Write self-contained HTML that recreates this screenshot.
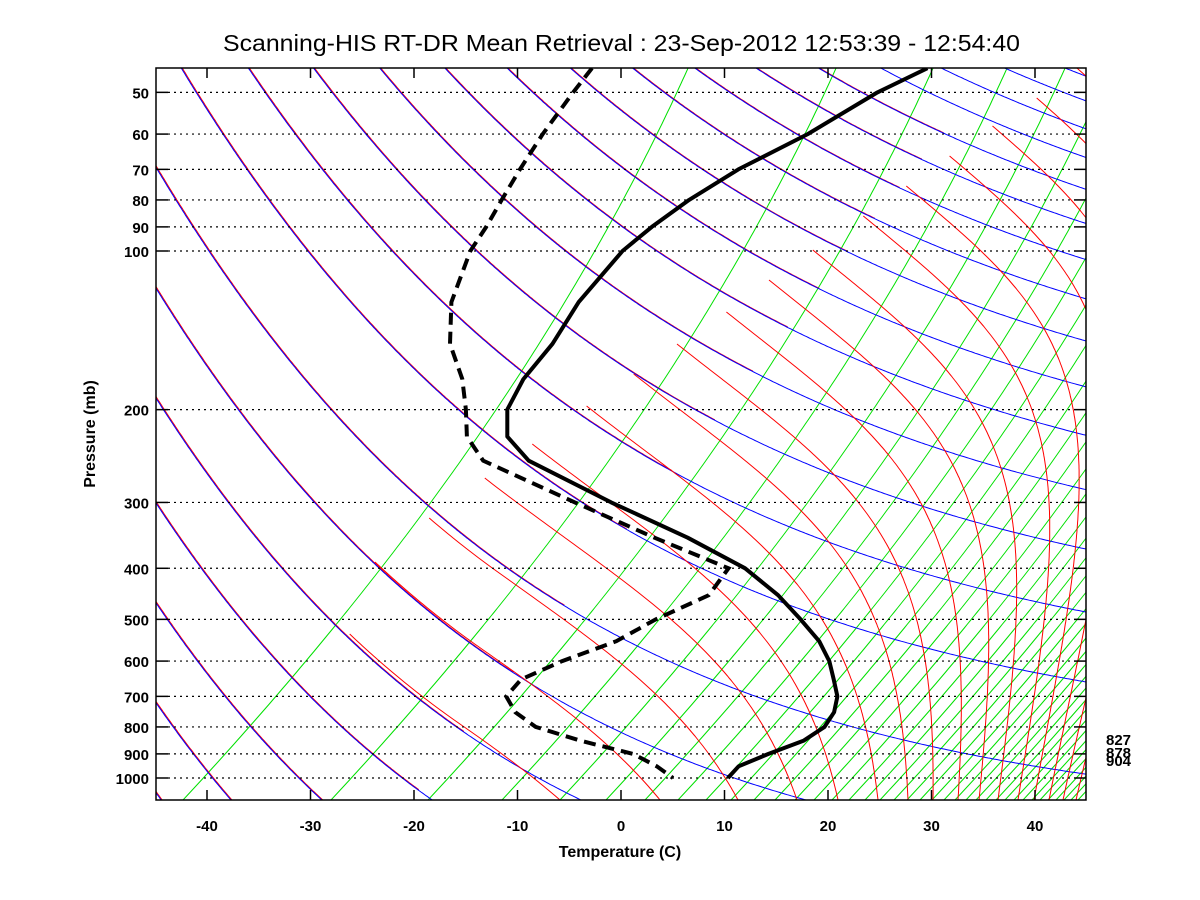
<!DOCTYPE html>
<html><head><meta charset="utf-8"><title>Skew-T</title>
<style>html,body{margin:0;padding:0;background:#fff;}svg{display:block;font-family:"Liberation Sans",Arial,sans-serif;}</style>
</head><body>
<svg id="chart" width="1200" height="900" viewBox="0 0 1200 900" xmlns="http://www.w3.org/2000/svg">
<defs><clipPath id="plotclip"><rect x="156" y="68" width="930" height="732"/></clipPath></defs>
<rect x="0" y="0" width="1200" height="900" fill="#fff"/>
<text x="223" y="51" font-size="23" textLength="797" lengthAdjust="spacingAndGlyphs">Scanning-HIS RT-DR Mean Retrieval : 23-Sep-2012 12:53:39 - 12:54:40</text>
<g id="bg" clip-path="url(#plotclip)"></g>
<g id="grid"></g>
<g id="profiles" clip-path="url(#plotclip)"></g>
<rect x="156" y="68" width="930" height="732" fill="none" stroke="#000" stroke-width="1.5"/>
<g id="axes"></g>
<text x="620" y="857" font-size="16" font-weight="bold" text-anchor="middle">Temperature (C)</text>
<text transform="translate(95,434) rotate(-90)" font-size="16" font-weight="bold" text-anchor="middle">Pressure (mb)</text>
<text x="1106" y="745" font-size="15" font-weight="bold">827</text>
<text x="1106" y="758" font-size="15" font-weight="bold">878</text>
<text x="1106" y="766" font-size="15" font-weight="bold">904</text>
</svg>
<script>
// ---- chart data ----
const pressureLevels = [45,50,60,70,80,90,100,125,150,175,200,225,250,300,350,400,450,500,550,600,650,700,750,800,850,900,950,1000];
const temperatureC = [-41.1,-43.6,-46.3,-49.6,-51.4,-52.4,-52.9,-52.2,-50.7,-50.1,-48.7,-46.1,-41.7,-29.7,-18.9,-10.4,-4.6,-0.1,3.8,6.7,8.9,10.9,12.1,12.6,11.9,9.8,8.1,8.2];
const dewpointC = [-73.5,-73.0,-71.9,-70.7,-69.5,-68.4,-67.6,-64.5,-60.6,-56.0,-52.7,-50.0,-46.1,-33.2,-22.1,-12.0,-11.3,-14.1,-15.8,-19.1,-21.3,-21.1,-18.7,-15.3,-9.6,-3.3,0.2,2.9];
const xTickLabels = [-40,-30,-20,-10,0,10,20,30,40];
const yTickLabels = [50,60,70,80,90,100,200,300,400,500,600,700,800,900,1000];

const NS = "http://www.w3.org/2000/svg";
const SKEW = 1.0;
function yOf(p){ return 778 + 527*Math.log10(p/1000); }
function pOf(y){ return 1000*Math.pow(10,(y-778)/527); }
function xOf(t,p){ return 621 + 10.35*t + SKEW*(800 - yOf(p)); }
function xTick(t){ return 621 + 10.35*t; }
function mk(tag, attrs, parent){ const e=document.createElementNS(NS,tag); for(const k in attrs) e.setAttribute(k,attrs[k]); parent.appendChild(e); return e; }
function pathD(pts){ return pts.map((q,i)=>(i?'L':'M')+q[0].toFixed(1)+' '+q[1].toFixed(1)).join(''); }

const bg = document.getElementById('bg');
// green reference lines
const greenBottoms = [183,331,428,502,560,606,645,678,706,731,754,775,795,814,832,849,865,880,894,907,920,932,944,955,966,976,986,996,1005,1014,1023,1032,1040,1048,1056,1064,1071,1078,1085];
greenBottoms.forEach(function(xb){
  const pts=[];
  for(let y=800;y>=66;y-=4){
    const I = 0.45*(800-y) + (0.24/732)*(732*732-(y-68)*(y-68));
    pts.push([xb+I,y]);
  }
  const el = mk('path',{d:pathD(pts),fill:'none',stroke:'#00e000','stroke-width':1},bg);
  
  
});
// blue reference lines
function h(x,y){ const A=1.6-0.35*(y-68)/732; const k=620-0.3*(y-68); return A*Math.exp(-(x-200)/k); }
function trace(x,y){ const pts=[[x,y]]; let n=0; while(x<1092 && y<806 && n<3000){ const s=h(x,y); const L=Math.sqrt(1+s*s); x+=2/L; y+=2*s/L; pts.push([x,y]); n++; } return pts; }
const topSeeds=[180,247,312,378,443,505,568,630,692,753,815,877,937,1000,1060];
const leftSeeds=[164,285,395,500,600,700,790];
const blueLines=[];
topSeeds.forEach(x=>blueLines.push({pts:trace(x,66),red:x<=815}));
leftSeeds.forEach(y=>blueLines.push({pts:trace(154,y),red:true}));
blueLines.forEach(function(b){
  if(b.red){
    const part=b.pts.filter(q=>q[0]+0.8*q[1] < 1050);
    if(part.length>1){
      const r = mk('path',{d:pathD(part.map(q=>[q[0]+1,q[1]])),fill:'none',stroke:'#ff0000','stroke-width':1},bg);
      
      
    }
  }
  const el = mk('path',{d:pathD(b.pts),fill:'none',stroke:'#0000ff','stroke-width':1},bg);
  
  
});
// red moist adiabats
function gammaM(Tk,p){
  const tc=Tk-273.15; const es=6.112*Math.exp(17.67*tc/(tc+243.5));
  const rs=0.622*es/Math.max(p-es,1);
  const num=287*Tk+2.5e6*rs; const den=1004+2.5e6*2.5e6*rs*0.622/(287*Tk*Tk);
  return num/den;
}
const redBottoms=[560,660,738,797,838,878,908,933,958,979,998,1018,1034,1049,1063,1076,1088,1099,1109,1118,1127,1135,1143,1150,1157,1164,1170];
const SKEW_M=1.45;
redBottoms.forEach(function(xb){
  let x=xb, y=800, Tk=(xb-621)/10.35+273.15; const pts=[[x,y]]; let clamped=0;
  while(y>66 && x>140){
    const p=pOf(y);
    const G=gammaM(Tk,p);
    let m=10.35*G/228.9 - SKEW_M;
    const mb=1/h(x,y);
    if(m>mb){ m=mb; clamped++; } else clamped=0;
    if(clamped>45 || Tk<215) break;
    x-=m*2; y-=2; Tk-=G*2/228.9;
    pts.push([x,y]);
  }
  const el = mk('path',{d:pathD(pts),fill:'none',stroke:'#ff0000','stroke-width':1},bg);
  
  
});

// isobar grid, ticks and labels
const grid=document.getElementById('grid');
const axes=document.getElementById('axes');
yTickLabels.forEach(function(p){
  const y=yOf(p);
  const g = mk('line',{x1:168,x2:1074,y1:y,y2:y,stroke:'#000','stroke-width':1.2,'stroke-dasharray':'2 4'},grid);
  
  
  const t1 = mk('line',{x1:156,x2:168,y1:y,y2:y,stroke:'#000','stroke-width':1.5},axes);
  
  
  const t2 = mk('line',{x1:1074,x2:1086,y1:y,y2:y,stroke:'#000','stroke-width':1.5},axes);
  
  
  const lb = mk('text',{x:149,y:y+6,'font-size':15,'font-weight':'bold','text-anchor':'end'},axes);
  lb.textContent=p;
  
  
});
xTickLabels.forEach(function(t){
  const x=xTick(t);
  const b = mk('line',{x1:x,x2:x,y1:790,y2:800,stroke:'#000','stroke-width':1.5},axes);
  
  
  const tp = mk('line',{x1:x,x2:x,y1:68,y2:78,stroke:'#000','stroke-width':1.5},axes);
  
  
  const lb = mk('text',{x:x,y:831,'font-size':15,'font-weight':'bold','text-anchor':'middle'},axes);
  lb.textContent=t;
  
  
});

// profiles
const prof=document.getElementById('profiles');
const tPts=pressureLevels.map((p,i)=>[xOf(temperatureC[i],p),yOf(p)]);
const dPts=pressureLevels.map((p,i)=>[xOf(dewpointC[i],p),yOf(p)]);
const tl = mk('path',{d:pathD(tPts),fill:'none',stroke:'#000','stroke-width':4,'stroke-linejoin':'round'},prof);


const dl = mk('path',{d:pathD(dPts),fill:'none',stroke:'#000','stroke-width':4,'stroke-dasharray':'12 7'},prof);


</script>
</body></html>
